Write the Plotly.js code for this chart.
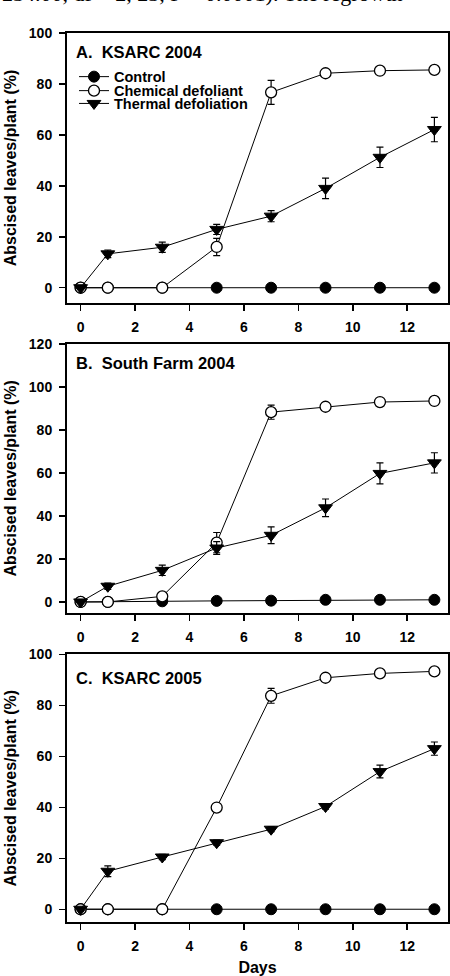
<!DOCTYPE html>
<html>
<head>
<meta charset="utf-8">
<script src="https://cdn.plot.ly/plotly-3.0.1.min.js"></script>
<style>html,body{margin:0;padding:0;background:#fff;}</style>
</head>
<body>
<div id="chart" style="width:450px;height:976px;"></div>
<script>
// ---- data ----
var days = [0, 1, 3, 5, 7, 9, 11, 13];
var seriesNames = ["Control", "Chemical defoliant", "Thermal defoliation"];
var panelTitles = ["A.\u00a0\u00a0KSARC 2004", "B.\u00a0\u00a0South Farm 2004", "C.\u00a0\u00a0KSARC 2005"];
var xTickVals = [0, 2, 4, 6, 8, 10, 12];
var xTitle = "Days";
var yTitle = "Abscised leaves/plant (%)";

var ctrlA  = [0, 0, 0, 0, 0, 0, 0, 0];
var chemA  = [0, 0, 0, 16, 76.7, 84.2, 85.2, 85.5];
var chemAErr = [0, 0, 0, 3.4, 4.7, 1, 1, 1];
var thermA = [0, 13.3, 15.9, 22.9, 28.1, 39, 51.2, 62.1];
var thermAErr = [0.5, 1.5, 2, 2, 2.2, 4, 4, 4.8];

var ctrlB  = [0, 0, 0.3, 0.5, 0.6, 1, 1, 1];
var chemB  = [0, 0, 2.6, 27.6, 88.3, 90.8, 93, 93.5];
var chemBErr = [0, 0, 0.5, 4.7, 3.3, 1, 1, 1];
var thermB = [0, 7.3, 14.7, 25.1, 31, 43.8, 59.8, 64.7];
var thermBErr = [0.5, 1.5, 2.4, 3, 3.9, 4.1, 4.9, 4.7];

var ctrlC  = [0, 0, 0, 0, 0, 0, 0, 0];
var chemC  = [0, 0, 0, 39.9, 83.7, 90.8, 92.5, 93.3];
var chemCErr = [0, 0, 0, 1, 2.9, 1, 1, 1];
var thermC = [0, 14.9, 20.5, 26.1, 31.4, 40.3, 54, 63];
var thermCErr = [0.5, 2.1, 1, 1, 1, 1, 2.5, 2.6];

var yRanges = [[-6, 100], [-5, 120], [-5, 100]];

// ---- build ----
var W = 450, H = 976;
var FONT = "Liberation Sans, Arial, Helvetica, sans-serif";
var panels = [
  {c: ctrlA, m: chemA, me: chemAErr, t: thermA, te: thermAErr, top: 33, bot: 303, ty: 52.5},
  {c: ctrlB, m: chemB, me: chemBErr, t: thermB, te: thermBErr, top: 344, bot: 612.7, ty: 362.7},
  {c: ctrlC, m: chemC, me: chemCErr, t: thermC, te: thermCErr, top: 654.3, bot: 922, ty: 677.7}
];

var traces = [];
var layout = {
  width: W, height: H,
  margin: {l: 0, r: 0, t: 0, b: 0},
  paper_bgcolor: "#fff", plot_bgcolor: "#fff",
  showlegend: true,
  font: {family: FONT, color: "#000", size: 14, weight: 700},
  annotations: [],
  shapes: []
};

var legendRows = [76.7, 90.7, 103.5];
var legendKeys = ["legend", "legend2", "legend3"];
legendKeys.forEach(function (k, i) {
  layout[k] = {
    x: 74 / W, xanchor: "left",
    y: 1 - legendRows[i] / H, yanchor: "middle",
    bgcolor: "rgba(0,0,0,0)", borderwidth: 0,
    font: {family: FONT, size: 14.5, color: "#000", weight: 700},
    itemclick: false, itemdoubleclick: false, tracegroupgap: 0
  };
});

panels.forEach(function (p, i) {
  var s = i === 0 ? "" : String(i + 1);
  var xa = "x" + s, ya = "y" + s;
  var common = {x: days, xaxis: xa, yaxis: ya, type: "scatter", mode: "lines+markers",
                line: {color: "#000", width: 1}, hoverinfo: "x+y"};
  traces.push(Object.assign({}, common, {
    y: p.c, name: seriesNames[0], showlegend: i === 0, legend: "legend",
    marker: {symbol: "circle", size: 11, color: "#000", line: {color: "#000", width: 1}}
  }));
  traces.push(Object.assign({}, common, {
    y: p.m, name: seriesNames[1], showlegend: i === 0, legend: "legend2",
    error_y: {type: "data", array: p.me, visible: true, color: "#000", thickness: 1.2, width: 3.5},
    marker: {symbol: "circle", size: 11, color: "#fff", line: {color: "#000", width: 1.3}}
  }));
  traces.push(Object.assign({}, common, {
    y: p.t, name: seriesNames[2], showlegend: i === 0, legend: "legend3",
    error_y: {type: "data", array: p.te, visible: true, color: "#000", thickness: 1.2, width: 3.5},
    marker: {symbol: "triangle-down", size: 12, color: "#000", line: {color: "#000", width: 1}}
  }));

  var yd = [1 - p.bot / H, 1 - p.top / H];
  layout["xaxis" + s] = {
    domain: [67 / W, 448 / W], anchor: ya, range: [-0.5, 13.5],
    tickvals: xTickVals, ticks: "outside", ticklen: 6, tickwidth: 1.5, tickcolor: "#000",
    showline: true, linewidth: 2, linecolor: "#000", mirror: true,
    showgrid: false, zeroline: false, automargin: false, ticklabelstandoff: 4,
    tickfont: {family: FONT, size: 14, color: "#000", weight: 700},
    title: i === 2 ? {text: xTitle, standoff: 15, font: {family: FONT, size: 16, color: "#000", weight: 700}} : {text: ""}
  };
  layout["yaxis" + s] = {
    domain: yd, anchor: xa, range: yRanges[i], dtick: 20, tick0: 0,
    ticks: "outside", ticklen: 6, tickwidth: 1.5, tickcolor: "#000",
    showline: true, linewidth: 2, linecolor: "#000", mirror: true,
    showgrid: false, zeroline: false, automargin: false, ticklabelstandoff: 4,
    tickfont: {family: FONT, size: 14, color: "#000", weight: 700},
    title: {text: yTitle, standoff: 8, font: {family: FONT, size: 16, color: "#000", weight: 700}}
  };
  layout.annotations.push({
    xref: "paper", yref: "paper", x: 74 / W, y: 1 - p.ty / H,
    xanchor: "left", yanchor: "middle", showarrow: false,
    text: panelTitles[i], font: {family: FONT, size: 16.5, color: "#000", weight: 700}
  });
});

// cropped running text from the page above the figure
layout.annotations.push({
  xref: "paper", yref: "paper", x: 0, y: 1, xanchor: "left", yanchor: "bottom", yshift: -8,
  showarrow: false, text: "234.00, df = 2, 23, P < 0.0001). The regrowth",
  font: {family: "Liberation Serif, Times New Roman, serif", size: 22, color: "#000", weight: 400}
});

Plotly.newPlot("chart", traces, layout, {staticPlot: true, displayModeBar: false});
</script>
</body>
</html>
